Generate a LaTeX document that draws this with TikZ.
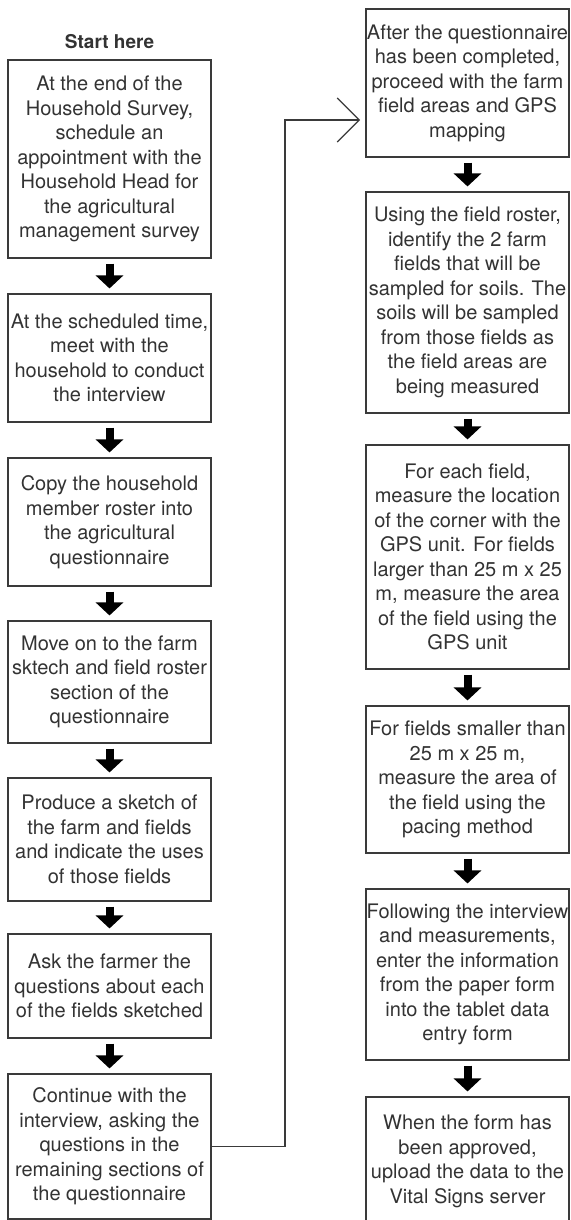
\documentclass[tikz,border=0pt]{standalone}
\usepackage{fontspec}
\setmainfont{TeX Gyre Heros}
\usetikzlibrary{arrows.meta}
\definecolor{txt}{HTML}{333333}
\definecolor{edge}{HTML}{3A3A3A}
\begin{document}
\begin{tikzpicture}[x=1pt,y=-1pt,
  stepbox/.style={draw=edge, line width=1.1pt, text=txt, align=center, inner sep=0pt,
    minimum width=203pt, font=\fontsize{20}{24.5}\selectfont},
  flow/.style={line width=8pt, draw=black, -{Triangle[length=13pt,width=27pt]}},
  link/.style={line width=1.1pt, draw=edge, -{Straight Barb[length=22pt,width=44pt,line width=1.1pt]}},
  title/.style={text=txt, font=\fontsize{19}{22}\selectfont\bfseries}
  ]
\useasboundingbox (0,0) rectangle (570,1220);
\fill[white] (0,0) rectangle (570,1220);

\node[title] (start) at (109.5,42) {Start here};

\node[stepbox, minimum height=198pt] (L1) at (109.5,159) {At the end of the\\Household Survey,\\schedule an\\appointment with the\\Household Head for\\the agricultural\\management survey};
\node[stepbox, minimum height=128pt] (L2) at (109.5,358) {At the scheduled time,\\meet with the\\household to conduct\\the interview};
\node[stepbox, minimum height=128pt] (L3) at (109.5,522) {Copy the household\\member roster into\\the agricultural\\questionnaire};
\node[stepbox, minimum height=122pt] (L4) at (109.5,682) {Move on to the farm\\sktech and field roster\\section of the\\questionnaire};
\node[stepbox, minimum height=123pt] (L5) at (109.5,839.5) {Produce a sketch of\\the farm and fields\\and indicate the uses\\of those fields};
\node[stepbox, minimum height=104pt] (L6) at (109.5,986) {Ask the farmer the\\questions about each\\of the fields sketched};
\node[stepbox, minimum height=145pt] (L7) at (109.5,1146.5) {Continue with the\\interview, asking the\\questions in the\\remaining sections of\\the questionnaire};

\node[stepbox, minimum height=148pt] (R1) at (467.5,83) {After the questionnaire\\has been completed,\\proceed with the farm\\field areas and GPS\\mapping};
\node[stepbox, minimum height=221pt] (R2) at (467.5,302.5) {Using the field roster,\\identify the 2 farm\\fields that will be\\sampled for soils. The\\soils will be sampled\\from those fields as\\the field areas are\\being measured};
\node[stepbox, minimum height=224pt] (R3) at (467.5,557) {For each field,\\measure the location\\of the corner with the\\GPS unit. For fields\\larger than 25 m x 25\\m, measure the area\\of the field using the\\GPS unit};
\node[stepbox, minimum height=147pt] (R4) at (467.5,779.5) {For fields smaller than\\25 m x 25 m,\\measure the area of\\the field using the\\pacing method};
\node[stepbox, minimum height=171pt] (R5) at (467.5,974.5) {Following the interview\\and measurements,\\enter the information\\from the paper form\\into the tablet data\\entry form};
\node[stepbox, minimum height=129pt] (R6) at (467.5,1161.5) {When the form has\\been approved,\\upload the data to the\\Vital Signs server};

\foreach \a/\b in {L1/L2,L2/L3,L3/L4,L4/L5,L5/L6,L6/L7,R1/R2,R2/R3,R3/R4,R4/R5,R5/R6}
  \draw[flow] ([yshift=-5pt]\a.south) -- ([yshift=5pt]\b.north);

\coordinate (bend) at (285,120);
\coordinate (entry) at (360,120);
\draw[link] (L7.east) -| (bend) -- (entry);
\end{tikzpicture}
\end{document}
